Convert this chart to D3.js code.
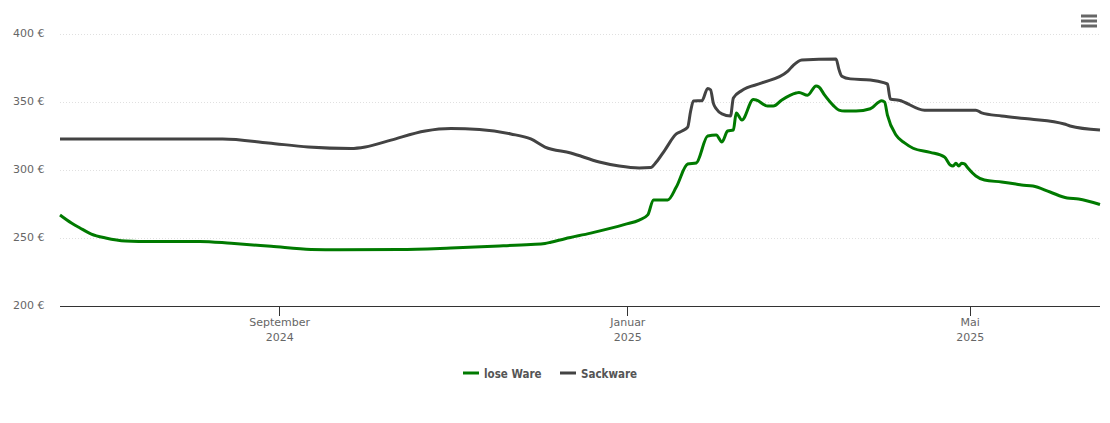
<!DOCTYPE html>
<html>
<head>
<meta charset="utf-8">
<script src="https://cdnjs.cloudflare.com/ajax/libs/d3/7.8.5/d3.min.js"></script>
<style>
  html, body { margin: 0; padding: 0; background: #fff; }
  svg { display: block; }
  .grid line { stroke: #e0e0e0; stroke-dasharray: 1 2; }
  .tick text { fill: #666; font-size: 11px; font-family: "DejaVu Sans", sans-serif; }
  .legend text { fill: #555; font-size: 11.5px; font-weight: bold; font-family: "DejaVu Sans Condensed", "DejaVu Sans", sans-serif; }
</style>
</head>
<body>
<svg id="chart" width="1110" height="423"></svg>
<script>
var seriesNames = ['lose Ware', 'Sackware'];
var seriesColors = ['#007a00', '#434343'];

var yTicks = [200, 250, 300, 350, 400];
var xTicks = ['2024-09-01', '2025-01-01', '2025-05-01'];
var xTickMonths = ['September', 'Januar', 'Mai'];
var xTickYears = ['2024', '2025', '2025'];

var loseDates = ['2024-06-16', '2024-06-20', '2024-06-23', '2024-06-27', '2024-07-02', '2024-07-09',
    '2024-07-18', '2024-08-04', '2024-08-15', '2024-08-29', '2024-09-12', '2024-09-22', '2024-10-13', '2024-10-31',
    '2024-11-17', '2024-11-28', '2024-12-03', '2024-12-05', '2024-12-10', '2024-12-19', '2024-12-31', '2025-01-05', '2025-01-08', '2025-01-10',
    '2025-01-15', '2025-01-18', '2025-01-22', '2025-01-25', '2025-01-29', '2025-02-01', '2025-02-03',
    '2025-02-05', '2025-02-07', '2025-02-08', '2025-02-10', '2025-02-14', '2025-02-15', '2025-02-19',
    '2025-02-21', '2025-02-24', '2025-03-01', '2025-03-02', '2025-03-05', '2025-03-08', '2025-03-09',
    '2025-03-11', '2025-03-14', '2025-03-16', '2025-03-18', '2025-03-22', '2025-03-27', '2025-03-31',
    '2025-04-01', '2025-04-02', '2025-04-05', '2025-04-08', '2025-04-11', '2025-04-17', '2025-04-22',
    '2025-04-24', '2025-04-25', '2025-04-26', '2025-04-27', '2025-04-28', '2025-04-29', '2025-04-30',
    '2025-05-03', '2025-05-06', '2025-05-12', '2025-05-17', '2025-05-19', '2025-05-23', '2025-05-29',
    '2025-06-04', '2025-06-08', '2025-06-15T12:00Z'];
var loseValues = [266.9, 261, 257.4, 252.9, 250, 247.8,
    247.4, 247.5, 246.1, 243.9, 241.6, 241.4, 241.5, 242.6,
    244.1, 245.3, 246, 246.9, 249.5, 253.6, 260, 263.2, 267, 278,
    278, 287.5, 304.4, 305.2, 325, 325.7, 320.6,
    328.7, 329.4, 341.9, 336.8, 351.8, 351.5, 347,
    347, 351.5, 356.6, 357, 355, 361.8, 361,
    355, 347.5, 344, 343.3, 343.3, 345, 351,
    350, 340.4, 325.7, 319.9, 316, 313, 309.6,
    303.7, 303, 305, 303, 305, 304.5, 302, 295.6, 292.6,
    291.2, 289.7, 289, 288.2, 283.8, 279.4, 278.7,
    274.6];

var sackDates = ['2024-06-16', '2024-08-12', '2024-08-28', '2024-09-11', '2024-09-26', '2024-10-01',
    '2024-10-10', '2024-10-22', '2024-10-31', '2024-11-10', '2024-11-21', '2024-11-28', '2024-12-03',
    '2024-12-12', '2024-12-22', '2024-12-29', '2025-01-05', '2025-01-09', '2025-01-11', '2025-01-14',
    '2025-01-18', '2025-01-20', '2025-01-22', '2025-01-23', '2025-01-24', '2025-01-27', '2025-01-29', '2025-01-30',
    '2025-01-31', '2025-02-01', '2025-02-03', '2025-02-06', '2025-02-07', '2025-02-10', '2025-02-17',
    '2025-02-26', '2025-02-28', '2025-03-03', '2025-03-15', '2025-03-16', '2025-03-17', '2025-03-20',
    '2025-03-27', '2025-04-01', '2025-04-02', '2025-04-03', '2025-04-06', '2025-04-15', '2025-05-03',
    '2025-05-05', '2025-05-12', '2025-05-22', '2025-06-03', '2025-06-05', '2025-06-15T12:00Z'];
var sackValues = [322.8, 322.8, 319.9, 316.9, 315.8, 316.9,
    322, 328.7, 330.5, 329.8, 326.5, 322.8, 316.9,
    312.5, 305.9, 302.9, 301.5, 301.8, 305.9, 314.7,
    326.5, 328.7, 331.5, 343, 350.7, 351, 360, 359,
    349, 345, 341.2, 339.7, 353, 358.5, 364,
    372.5, 377, 380.9, 381.6, 374, 369, 367,
    366.2, 364, 363.2, 352.2, 351.3, 344, 344,
    342, 339.7, 337.5, 333.8, 332.4, 329.4];

var parseDate = function(s) { return new Date(s); };

var x = d3.scaleUtc()
    .domain([parseDate(loseDates[0]), parseDate(loseDates[loseDates.length - 1])])
    .range([60, 1100]);
var y = d3.scaleLinear()
    .domain([200, 400])
    .range([306, 34]);

var svg = d3.select('#chart');

function euro(d) {
    return d + ' €';
}

// y axis: labels and dotted grid lines
var yAxis = svg.append('g')
    .attr('class', 'grid')
    .attr('transform', 'translate(60,0)')
    .call(d3.axisLeft(y)
        .tickValues(yTicks.slice(1))
        .tickSize(-1040)
        .tickPadding(15.5)
        .tickFormat(euro));
yAxis.select('.domain').remove();

svg.append('g')
    .attr('transform', 'translate(60,0)')
    .call(d3.axisLeft(y)
        .tickValues([yTicks[0]])
        .tickSize(0)
        .tickPadding(15.5)
        .tickFormat(euro))
    .select('.domain').remove();

svg.selectAll('.tick text').attr('dy', '0.27em');

// x axis
var xAxis = svg.append('g')
    .attr('transform', 'translate(-0.5,306)')
    .call(d3.axisBottom(x)
        .tickValues(xTicks.map(parseDate))
        .tickSize(10)
        .tickPadding(2)
        .tickSizeOuter(0)
        .tickFormat(function(d, i) { return xTickMonths[i]; }));
xAxis.select('.domain').attr('stroke', '#333').attr('shape-rendering', 'crispEdges');
xAxis.selectAll('.tick line').attr('stroke', '#333').attr('shape-rendering', 'crispEdges');
xAxis.selectAll('.tick').append('text')
    .attr('y', 27)
    .attr('dy', '0.71em')
    .text(function(d, i) { return xTickYears[i]; });

// lines
var line = d3.line()
    .x(function(d) { return x(d.date); })
    .y(function(d) { return y(d.value); })
    .curve(d3.curveMonotoneX);

function toPoints(dates, values) {
    return dates.map(function(d, i) {
        return {date: parseDate(d), value: values[i]};
    });
}

var allSeries = [toPoints(loseDates, loseValues), toPoints(sackDates, sackValues)];

allSeries.forEach(function(points, i) {
    svg.append('path')
        .datum(points)
        .attr('fill', 'none')
        .attr('stroke', seriesColors[i])
        .attr('stroke-width', 3)
        .attr('stroke-linejoin', 'round')
        .attr('d', line);
});

// legend
var legendX = [463, 560];
var legend = svg.selectAll('.legend')
    .data(seriesNames)
    .enter()
    .append('g')
    .attr('class', 'legend')
    .attr('transform', function(d, i) { return 'translate(' + legendX[i] + ',373)'; });
legend.append('line')
    .attr('x1', 0)
    .attr('x2', 16)
    .attr('stroke', function(d, i) { return seriesColors[i]; })
    .attr('stroke-width', 3);
legend.append('text')
    .attr('x', 21)
    .attr('y', 4.5)
    .text(function(d) { return d; });

// menu button
var menuRows = [16, 21, 26];
svg.selectAll('.menu')
    .data(menuRows)
    .enter()
    .append('line')
    .attr('class', 'menu')
    .attr('x1', 1081)
    .attr('x2', 1097)
    .attr('y1', function(d) { return d; })
    .attr('y2', function(d) { return d; })
    .attr('stroke', '#666')
    .attr('stroke-width', 3);
</script>
</body>
</html>
